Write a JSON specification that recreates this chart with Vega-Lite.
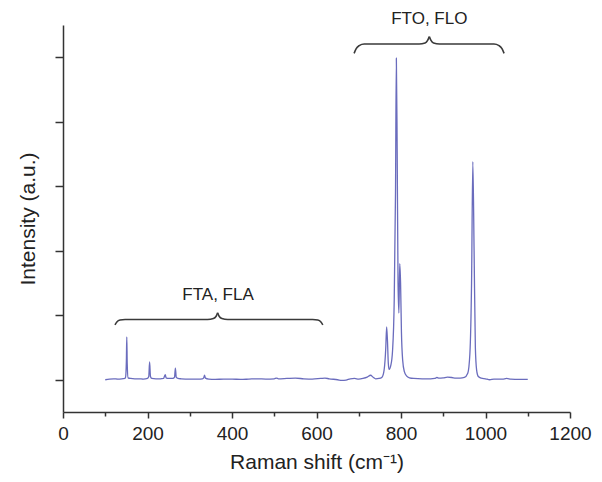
{
  "$schema": "https://vega.github.io/schema/vega-lite/v6.json",
  "autosize": "none",
  "width": 507,
  "height": 387,
  "padding": {"left": 63, "top": 25, "right": 32, "bottom": 70},
  "background": "white",
  "config": {
    "view": {"stroke": null},
    "font": "Liberation Sans"
  },
  "datasets": {
    "spectrum": [
      {"shift": 100, "intensity": 1.0}, {"shift": 110, "intensity": 1.02}, {"shift": 120, "intensity": 1.03},
      {"shift": 130, "intensity": 1.02}, {"shift": 140, "intensity": 1.03}, {"shift": 146, "intensity": 1.04},
      {"shift": 148, "intensity": 1.07}, {"shift": 150, "intensity": 1.6}, {"shift": 151, "intensity": 2.33},
      {"shift": 152, "intensity": 1.5}, {"shift": 154, "intensity": 1.06}, {"shift": 160, "intensity": 1.04},
      {"shift": 170, "intensity": 1.03}, {"shift": 180, "intensity": 1.03}, {"shift": 190, "intensity": 1.02},
      {"shift": 200, "intensity": 1.04}, {"shift": 203, "intensity": 1.1}, {"shift": 205, "intensity": 1.55},
      {"shift": 207, "intensity": 1.1}, {"shift": 210, "intensity": 1.04}, {"shift": 220, "intensity": 1.03},
      {"shift": 230, "intensity": 1.03}, {"shift": 238, "intensity": 1.04}, {"shift": 240, "intensity": 1.1},
      {"shift": 242, "intensity": 1.16}, {"shift": 244, "intensity": 1.06}, {"shift": 250, "intensity": 1.04},
      {"shift": 260, "intensity": 1.04}, {"shift": 264, "intensity": 1.08}, {"shift": 266, "intensity": 1.36},
      {"shift": 268, "intensity": 1.08}, {"shift": 272, "intensity": 1.04}, {"shift": 280, "intensity": 1.03},
      {"shift": 300, "intensity": 1.02}, {"shift": 320, "intensity": 1.02}, {"shift": 330, "intensity": 1.03},
      {"shift": 333, "intensity": 1.06}, {"shift": 335, "intensity": 1.14}, {"shift": 337, "intensity": 1.05},
      {"shift": 345, "intensity": 1.02}, {"shift": 360, "intensity": 1.01}, {"shift": 380, "intensity": 1.02},
      {"shift": 400, "intensity": 1.02}, {"shift": 420, "intensity": 1.01}, {"shift": 440, "intensity": 1.02},
      {"shift": 460, "intensity": 1.03}, {"shift": 480, "intensity": 1.02}, {"shift": 500, "intensity": 1.03},
      {"shift": 505, "intensity": 1.05}, {"shift": 510, "intensity": 1.03}, {"shift": 530, "intensity": 1.04},
      {"shift": 550, "intensity": 1.05}, {"shift": 570, "intensity": 1.03}, {"shift": 590, "intensity": 1.02},
      {"shift": 610, "intensity": 1.04}, {"shift": 620, "intensity": 1.05}, {"shift": 630, "intensity": 1.03},
      {"shift": 650, "intensity": 1.0}, {"shift": 660, "intensity": 0.98}, {"shift": 670, "intensity": 0.99},
      {"shift": 680, "intensity": 1.03}, {"shift": 690, "intensity": 1.04}, {"shift": 700, "intensity": 1.02},
      {"shift": 710, "intensity": 1.04}, {"shift": 720, "intensity": 1.08}, {"shift": 728, "intensity": 1.14},
      {"shift": 734, "intensity": 1.08}, {"shift": 740, "intensity": 1.03}, {"shift": 748, "intensity": 1.04},
      {"shift": 755, "intensity": 1.08}, {"shift": 760, "intensity": 1.3}, {"shift": 764, "intensity": 2.0},
      {"shift": 766, "intensity": 2.64}, {"shift": 768, "intensity": 2.2}, {"shift": 770, "intensity": 1.5},
      {"shift": 772, "intensity": 1.32}, {"shift": 776, "intensity": 1.45}, {"shift": 780, "intensity": 1.9},
      {"shift": 784, "intensity": 3.5}, {"shift": 787, "intensity": 6.8}, {"shift": 789, "intensity": 10.97},
      {"shift": 791, "intensity": 8.0}, {"shift": 793, "intensity": 4.0}, {"shift": 795, "intensity": 3.07},
      {"shift": 797, "intensity": 4.6}, {"shift": 799, "intensity": 4.0}, {"shift": 801, "intensity": 2.5},
      {"shift": 804, "intensity": 1.6}, {"shift": 808, "intensity": 1.25}, {"shift": 813, "intensity": 1.12},
      {"shift": 820, "intensity": 1.06}, {"shift": 830, "intensity": 1.04}, {"shift": 850, "intensity": 1.03},
      {"shift": 870, "intensity": 1.03}, {"shift": 880, "intensity": 1.04}, {"shift": 885, "intensity": 1.07},
      {"shift": 890, "intensity": 1.05}, {"shift": 900, "intensity": 1.06}, {"shift": 910, "intensity": 1.08},
      {"shift": 920, "intensity": 1.07}, {"shift": 930, "intensity": 1.05}, {"shift": 940, "intensity": 1.05},
      {"shift": 950, "intensity": 1.07}, {"shift": 958, "intensity": 1.2}, {"shift": 963, "intensity": 1.8},
      {"shift": 967, "intensity": 4.0}, {"shift": 970, "intensity": 7.76}, {"shift": 973, "intensity": 5.0},
      {"shift": 976, "intensity": 2.0}, {"shift": 979, "intensity": 1.3}, {"shift": 983, "intensity": 1.1},
      {"shift": 990, "intensity": 1.05}, {"shift": 1000, "intensity": 1.03}, {"shift": 1010, "intensity": 1.0},
      {"shift": 1020, "intensity": 1.02}, {"shift": 1040, "intensity": 1.02}, {"shift": 1050, "intensity": 1.04},
      {"shift": 1060, "intensity": 1.02}, {"shift": 1080, "intensity": 1.01}, {"shift": 1100, "intensity": 1.01}
    ],
    "braces": [
      {"part": "a1", "shift": 123, "intensity": 2.70}, {"part": "a1", "shift": 128, "intensity": 2.80},
      {"part": "a1", "shift": 135, "intensity": 2.85}, {"part": "a1", "shift": 147, "intensity": 2.87},
      {"part": "a1", "shift": 342, "intensity": 2.87}, {"part": "a1", "shift": 356, "intensity": 2.90},
      {"part": "a1", "shift": 362, "intensity": 2.96}, {"part": "a1", "shift": 366, "intensity": 3.08},
      {"part": "a2", "shift": 366, "intensity": 3.08}, {"part": "a2", "shift": 370, "intensity": 2.96},
      {"part": "a2", "shift": 376, "intensity": 2.90}, {"part": "a2", "shift": 390, "intensity": 2.87},
      {"part": "a2", "shift": 591, "intensity": 2.87}, {"part": "a2", "shift": 603, "intensity": 2.85},
      {"part": "a2", "shift": 610, "intensity": 2.80}, {"part": "a2", "shift": 615, "intensity": 2.70},
      {"part": "b1", "shift": 689, "intensity": 11.12}, {"part": "b1", "shift": 694, "intensity": 11.27},
      {"part": "b1", "shift": 701, "intensity": 11.36}, {"part": "b1", "shift": 713, "intensity": 11.41},
      {"part": "b1", "shift": 843, "intensity": 11.41}, {"part": "b1", "shift": 857, "intensity": 11.44},
      {"part": "b1", "shift": 863, "intensity": 11.52}, {"part": "b1", "shift": 867, "intensity": 11.64},
      {"part": "b2", "shift": 867, "intensity": 11.64}, {"part": "b2", "shift": 871, "intensity": 11.52},
      {"part": "b2", "shift": 877, "intensity": 11.44}, {"part": "b2", "shift": 891, "intensity": 11.41},
      {"part": "b2", "shift": 1020, "intensity": 11.41}, {"part": "b2", "shift": 1032, "intensity": 11.36},
      {"part": "b2", "shift": 1039, "intensity": 11.27}, {"part": "b2", "shift": 1044, "intensity": 11.12}
    ],
    "labels": [
      {"shift": 367, "intensity": 3.63, "text": "FTA, FLA"},
      {"shift": 867, "intensity": 12.2, "text": "FTO, FLO"}
    ]
  },
  "layer": [
    {
      "data": {"name": "spectrum"},
      "mark": {"type": "line", "color": "#6a6cbd", "strokeWidth": 1.3, "interpolate": "monotone"},
      "encoding": {
        "x": {
          "field": "shift", "type": "quantitative",
          "scale": {"domain": [0, 1200], "nice": false, "zero": false},
          "axis": {
            "title": "Raman shift (cm⁻¹)",
            "values": [0, 100, 200, 300, 400, 500, 600, 700, 800, 900, 1000, 1100, 1200],
            "labelExpr": "datum.value % 200 == 0 ? datum.label : ''",
            "format": "d",
            "grid": false,
            "domainColor": "#333333", "domainWidth": 1.5,
            "tickColor": "#333333", "tickWidth": 1.5,
            "tickSize": {"condition": {"test": "datum.value % 200 == 0", "value": 6}, "value": 4},
            "labelPadding": 6,
            "labelFontSize": 19, "labelColor": "#222222", "labelFont": "Liberation Sans",
            "labelOverlap": false, "labelFlush": false,
            "titleFontSize": 21, "titleFontWeight": "normal", "titleColor": "#222222",
            "titleFont": "Liberation Sans", "titlePadding": 8
          }
        },
        "y": {
          "field": "intensity", "type": "quantitative",
          "scale": {"domain": [0, 12], "nice": false, "zero": false},
          "axis": {
            "title": "Intensity (a.u.)",
            "values": [1, 2, 3, 4, 5, 6, 7, 8, 9, 10, 11, 12],
            "labels": false,
            "grid": false,
            "domainColor": "#333333", "domainWidth": 1.5,
            "tickColor": "#333333", "tickWidth": 1.5,
            "tickSize": {"condition": {"test": "datum.value % 2 == 1", "value": 8}, "value": 5},
            "titleFontSize": 21, "titleFontWeight": "normal", "titleColor": "#222222",
            "titleFont": "Liberation Sans", "titlePadding": 16
          }
        }
      }
    },
    {
      "data": {"name": "braces"},
      "mark": {"type": "line", "color": "#3a3a3a", "strokeWidth": 1.6, "interpolate": "monotone", "clip": false},
      "encoding": {
        "x": {"field": "shift", "type": "quantitative"},
        "y": {"field": "intensity", "type": "quantitative"},
        "detail": {"field": "part", "type": "nominal"}
      }
    },
    {
      "data": {"name": "labels"},
      "mark": {"type": "text", "fontSize": 17, "color": "#222222", "font": "Liberation Sans", "baseline": "middle", "align": "center"},
      "encoding": {
        "x": {"field": "shift", "type": "quantitative"},
        "y": {"field": "intensity", "type": "quantitative"},
        "text": {"field": "text", "type": "nominal"}
      }
    }
  ]
}
